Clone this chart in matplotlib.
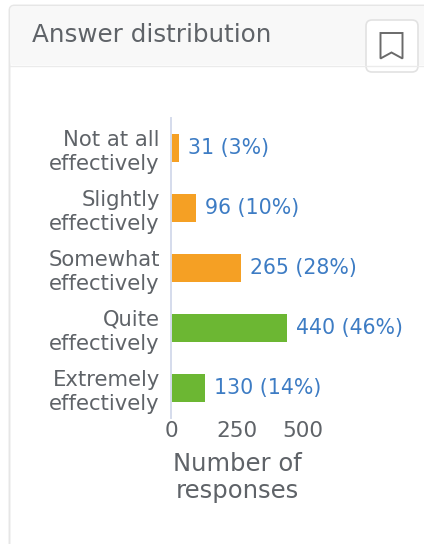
import matplotlib
matplotlib.use("Agg")
import matplotlib.pyplot as plt
from matplotlib.patches import FancyBboxPatch, Polygon
from matplotlib.transforms import Bbox

categories = ["Not at all\neffectively", "Slightly\neffectively", "Somewhat\neffectively",
              "Quite\neffectively", "Extremely\neffectively"]
counts = [31, 96, 265, 440, 130]
percents = [3, 10, 28, 46, 14]
bar_colors = ["#f5a024", "#f5a024", "#f5a024", "#6cb733", "#6cb733"]
xticks = [0, 250, 500]
title = "Answer distribution"
xlabel = "Number of\nresponses"

W, H = 424, 544
GREY = "#5f6368"
BLUE = "#3d7cc4"
plt.rcParams["font.family"] = ["DejaVu Sans"]

fig = plt.figure(figsize=(W / 100, H / 100), dpi=100, facecolor="white")

# card furniture in pixel coordinates
bg = fig.add_axes([0, 0, 1, 1])
bg.set_xlim(0, W)
bg.set_ylim(H, 0)
bg.axis("off")
bg.add_patch(FancyBboxPatch((9.5, 5.5), 430, 600, boxstyle="round,pad=0,rounding_size=5",
                            fc="white", ec="#e6e6e6", lw=1.4))
bg.add_patch(FancyBboxPatch((10, 6), 430, 59, boxstyle="round,pad=0,rounding_size=4",
                            fc="#f8f8f8", ec="none"))
bg.plot([10, W], [65.5, 65.5], color="#ebebeb", lw=1)
bg.text(32, 35.5, title, fontsize=17.7, color=GREY, va="center", ha="left")
bg.add_patch(FancyBboxPatch((366, 20), 52, 52, boxstyle="round,pad=0,rounding_size=6",
                            fc="white", ec="#e2e2e2", lw=1.2))
bg.add_patch(Polygon([(380.5, 33), (402.5, 33), (402.5, 58.5), (391.5, 52.5), (380.5, 58.5)],
                     closed=True, fc="none", ec="#6a6a6a", lw=1.4))

# chart
ax = fig.add_axes([171 / W, 1 - 418 / H, 132 / W, 300 / H])
ax.set_facecolor("none")
y = list(range(len(categories)))
ax.barh(y, counts, height=0.46, color=bar_colors, linewidth=0)
ax.set_ylim(4.5, -0.5)
ax.set_xlim(0, 500)
ax.set_yticks(y)
ax.set_yticklabels(categories, fontsize=15.2, color=GREY, linespacing=1.22, ha="right")
ax.set_xticks(xticks)
ax.set_xticklabels([str(t) for t in xticks], fontsize=15.5, color=GREY)
ax.tick_params(axis="both", length=0)
ax.tick_params(axis="y", pad=8)
ax.tick_params(axis="x", pad=2)
for s in ["top", "right", "bottom"]:
    ax.spines[s].set_visible(False)
ax.spines["left"].set_color("#d5dcec")
ax.spines["left"].set_linewidth(1.4)
ax.set_xlabel(xlabel, fontsize=17.5, color=GREY, labelpad=8, linespacing=1.15)

clip = Bbox.from_extents(0, 0, 403, H)
for yi, c, p in zip(y, counts, percents):
    t = ax.annotate(f"{c} ({p}%)", (c, yi), xytext=(6.5, 0), textcoords="offset points",
                    fontsize=14.8, color=BLUE, va="center", ha="left", annotation_clip=False)
    t.set_clip_box(clip)
    t.set_clip_on(True)

fig.savefig("out.png", dpi=100)
